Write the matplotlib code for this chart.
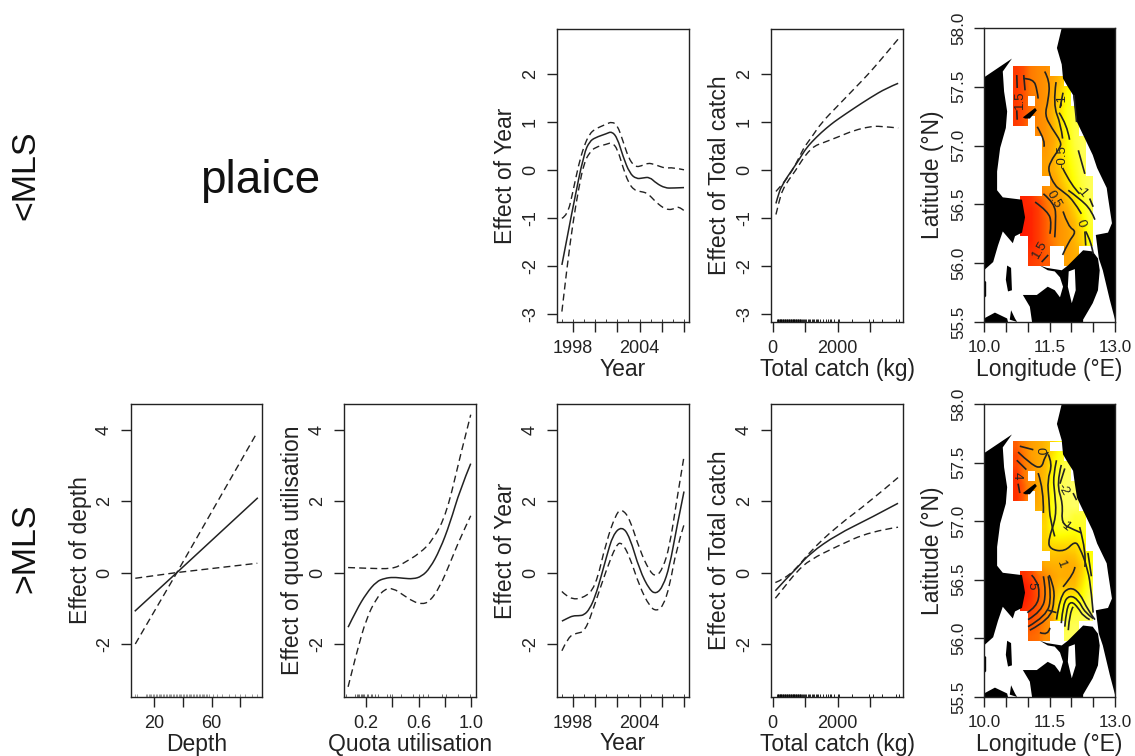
"""
Plaice GAM effects: smooth terms for <MLS and >MLS plus the two effect maps.
"""
import numpy as np
import matplotlib
matplotlib.use("Agg")
import matplotlib.pyplot as plt
from matplotlib.colors import LinearSegmentedColormap, ListedColormap, Normalize
from matplotlib.patches import Polygon, PathPatch
from matplotlib.path import Path

plt.rcParams["font.family"] = ["Liberation Sans", "DejaVu Sans"]
plt.rcParams["axes.unicode_minus"] = False

W, H = 1135, 756
INK = "#222222"
n = np.nan

# ---- <MLS smooth terms ----
year_u_x = [1997, 1998, 1999, 1999.5, 2000, 2001, 2001.5, 2002, 2002.5, 2003.1, 2003.7, 2004.3, 2004.9, 2005.5, 2006.3, 2007, 2008]
year_u_fit = [-1.98, -0.76, 0.35, 0.59, 0.67, 0.75, 0.80, 0.66, 0.28, -0.07, -0.19, -0.17, -0.15, -0.28, -0.38, -0.38, -0.37]
year_u_hi_x = [1997, 1997.5, 1998, 1998.5, 1999, 1999.5, 2000, 2001, 2001.5, 2002, 2002.5, 2003, 2003.5, 2004, 2004.7, 2005.5, 2006.3, 2007, 2008]
year_u_hi = [-1.01, -0.95, -0.45, 0.1, 0.5, 0.75, 0.85, 0.95, 1.0, 0.93, 0.6, 0.25, 0.08, 0.06, 0.15, 0.1, 0.03, 0.05, 0.0]
year_u_lo_x = [1997, 1997.5, 1998, 1998.5, 1999, 1999.5, 2000, 2001, 2001.5, 2002, 2002.5, 2003, 2003.5, 2004, 2004.7, 2005.5, 2006.3, 2007, 2007.5, 2008]
year_u_lo = [-2.95, -1.95, -1.1, -0.4, 0.15, 0.36, 0.47, 0.53, 0.57, 0.44, 0.05, -0.27, -0.42, -0.45, -0.48, -0.68, -0.82, -0.83, -0.75, -0.85]

catch_u_x = [100, 200, 300, 400, 500, 600, 700, 800, 1000, 1200, 1500, 1800, 2000, 2500, 3000, 3500, 3860]
catch_u_fit = [-0.7, -0.45, -0.32, -0.2, -0.1, 0.0, 0.1, 0.2, 0.42, 0.58, 0.78, 0.95, 1.05, 1.28, 1.5, 1.7, 1.8]
catch_u_hi_x = [100, 300, 500, 700, 900, 1000, 1200, 1500, 2000, 2500, 3000, 3500, 3860]
catch_u_hi = [-0.45, -0.3, -0.12, 0.1, 0.38, 0.5, 0.68, 0.98, 1.33, 1.68, 2.03, 2.43, 2.72]
catch_u_lo_x = [100, 200, 300, 500, 700, 900, 1100, 1300, 1500, 2000, 2500, 3000, 3300, 3860]
catch_u_lo = [-0.93, -0.65, -0.42, -0.2, -0.02, 0.2, 0.38, 0.5, 0.55, 0.68, 0.82, 0.9, 0.91, 0.87]

# ---- >MLS smooth terms ----
depth_x = [6.7, 35.8, 92]
depth_fit = [-1.07, 0.0, 2.08]
depth_hi = [-0.16, 0.0, 0.26]
depth_lo = [-2.0, 0.0, 3.93]

quota_x = [0.066, 0.129, 0.205, 0.281, 0.344, 0.408, 0.484, 0.559, 0.623, 0.686, 0.762, 0.838, 0.914, 0.995]
quota_fit = [-1.53, -1.05, -0.58, -0.25, -0.16, -0.13, -0.16, -0.18, -0.11, 0.12, 0.64, 1.38, 2.32, 3.05]
quota_lo = [-3.2, -2.26, -1.28, -0.72, -0.46, -0.44, -0.63, -0.81, -0.89, -0.81, -0.39, 0.26, 0.96, 1.59]
quota_hi_x = [0.066, 0.205, 0.408, 0.484, 0.61, 0.711, 0.813, 0.914, 0.995]
quota_hi = [0.14, 0.12, 0.10, 0.26, 0.54, 0.92, 1.66, 3.25, 4.42]

year_o_x = [1997, 1997.5, 1998, 1998.5, 1999, 1999.5, 2000, 2000.5, 2001, 2001.6, 2002.4, 2003.1, 2004, 2004.9, 2005.5, 2006.1, 2006.7, 2007.3, 2008]
year_o_fit = [-1.36, -1.28, -1.21, -1.21, -1.19, -1.02, -0.67, -0.15, 0.42, 1.06, 1.30, 1.01, 0.07, -0.49, -0.60, -0.39, 0.17, 1.2, 2.27]
year_o_hi_x = [1997, 1997.7, 1998.9, 2000, 2001, 2001.9, 2002.4, 2003.1, 2004, 2004.9, 2005.5, 2006.1, 2006.7, 2007.3, 2008]
year_o_hi = [-0.53, -0.75, -0.72, -0.44, 0.87, 1.66, 1.78, 1.52, 0.64, 0.03, -0.12, 0.12, 0.73, 1.94, 3.25]
year_o_lo_x = [1997, 1997.6, 1998.3, 1999.1, 2000, 2001, 2001.9, 2002.4, 2003.1, 2004, 2004.9, 2005.5, 2006.1, 2006.7, 2007.3, 2008]
year_o_lo = [-2.19, -1.79, -1.7, -1.65, -0.86, 0.07, 0.78, 0.85, 0.45, -0.39, -0.95, -1.08, -0.95, -0.39, 0.64, 1.34]

catch_o_x = [82, 430, 740, 1150, 1970, 2995, 3856]
catch_o_fit = [-0.51, -0.16, 0.12, 0.54, 1.06, 1.52, 1.94]
catch_o_hi_x = [82, 330, 740, 1150, 1970, 2995, 3856]
catch_o_hi = [-0.28, -0.19, 0.12, 0.59, 1.29, 1.99, 2.66]
catch_o_lo = [-0.72, -0.44, 0.03, 0.36, 0.73, 1.15, 1.27]

# ---- rugs ----
years = [1997, 1998, 1999, 2000, 2001, 2002, 2003, 2004, 2005, 2006, 2007, 2008]
depth_rug = [6.7, 8, 14, 15, 16, 17, 18, 19, 20, 21, 22, 23, 24, 25, 26, 27, 28, 29, 30, 31, 32, 33, 34, 35, 36, 37,
             38, 39, 40, 41, 42, 43, 44, 45, 46, 47, 48, 49, 50, 51, 52, 53, 54, 55, 56, 57, 58, 61, 64, 67, 72, 76.5, 80, 83.5, 88, 91.6]
quota_rug = [0.053, 0.116, 0.13, 0.14, 0.15, 0.16, 0.17, 0.18, 0.19, 0.21, 0.22, 0.24, 0.25, 0.27, 0.29, 0.357, 0.38,
             0.40, 0.47, 0.56, 0.60, 0.635, 0.67, 0.775, 0.81, 0.90, 0.99]
catch_rug = [130, 150, 170, 190, 210, 230, 250, 270, 290, 310, 330, 350, 370, 390, 410, 430, 450, 470, 490, 510, 530,
             550, 570, 590, 610, 630, 650, 670, 690, 710, 730, 750, 770, 790, 810, 830, 850, 880, 910, 940, 970, 1000,
             1040, 1080, 1120, 1160, 1200, 1240, 1280, 1320, 1360, 1400, 1450, 1550, 1650, 1700, 1750, 1800, 1900, 2000,
             2050, 2450, 2950, 3100, 3350, 3800, 3900]

# ---- map: land outlines (lon, lat) ----
land_jutland = [(10.0, 57.58), (10.64, 57.74), (10.43, 57.63), (10.46, 57.46), (10.53, 57.29), (10.50, 57.15),
                (10.37, 56.98), (10.30, 56.78), (10.30, 56.62), (10.43, 56.56), (10.87, 56.54), (10.94, 56.39),
                (10.87, 56.26), (10.71, 56.23), (10.66, 56.17), (10.43, 56.27), (10.32, 56.15), (10.21, 56.01), (10.0, 55.94)]
land_sweden = [(11.78, 58.0), (11.67, 57.83), (11.78, 57.69), (11.81, 57.57), (11.92, 57.50), (12.04, 57.43),
               (12.08, 57.32), (12.13, 57.20), (12.31, 57.06), (12.49, 56.92), (12.59, 56.81), (12.81, 56.64),
               (12.84, 56.56), (12.93, 56.34), (12.84, 56.26), (12.56, 56.24), (12.63, 56.04), (12.72, 55.94),
               (12.88, 55.69), (13.0, 55.52), (13.0, 58.0)]
land_zealand = [(11.28, 55.98), (11.44, 55.96), (11.78, 55.94), (11.92, 55.98), (12.27, 56.11), (12.49, 56.10),
                (12.61, 56.04), (12.65, 55.94), (12.61, 55.77), (12.49, 55.66), (12.27, 55.52), (12.27, 55.50),
                (11.10, 55.50), (11.05, 55.63), (10.89, 55.73), (11.21, 55.73), (11.46, 55.80), (11.62, 55.77),
                (11.74, 55.71), (11.81, 55.80), (11.74, 55.88), (11.62, 55.93), (11.46, 55.94)]
land_laeso = [(10.89, 57.24), (11.17, 57.32), (11.21, 57.30), (11.05, 57.23), (10.94, 57.23)]
land_samso = [(10.53, 55.98), (10.62, 55.96), (10.64, 55.77), (10.55, 55.76), (10.50, 55.86)]
land_fyn_a = [(10.0, 55.50), (10.0, 55.53), (10.25, 55.58), (10.53, 55.53), (10.55, 55.50)]
land_fyn_b = [(10.59, 55.52), (10.62, 55.60), (10.71, 55.53), (10.76, 55.50)]
land_fyn_c = [(10.0, 55.86), (10.05, 55.84), (10.05, 55.72), (10.0, 55.70)]
sea_isefjord = [(11.94, 55.93), (12.08, 55.95), (12.10, 55.77), (12.01, 55.66), (11.92, 55.80)]

# ---- map: effect cells, rows north to south ----
cell_lon = [10.67, 10.83, 11.0, 11.17, 11.33, 11.5, 11.67, 11.83, 12.0, 12.17, 12.33, 12.5]
cell_lat = [57.68, 57.595, 57.51, 57.425, 57.34, 57.255, 57.17, 57.085, 57.0, 56.915, 56.83, 56.745, 56.66,
            56.575, 56.49, 56.405, 56.32, 56.235, 56.15, 56.065, 55.98]
effect_under = [
    [1.7, 1.5, 1.1, .9, .8, n, n, n, n, n, n],
    [1.7, 1.5, 1.1, .9, .7, .4, .1, n, n, n, n],
    [1.7, 1.5, 1.1, .9, .7, .3, -.1, -.6, n, n, n],
    [1.7, 1.5, n, .9, .7, .3, -.2, -.7, n, n, n],
    [1.7, 1.5, 1.2, .9, .6, .2, -.3, -.8, -1.1, n, n],
    [1.7, 1.5, n, .9, .7, .2, -.3, -.8, -1.1, n, n],
    [n, n, n, .9, .7, .3, -.2, -.7, -1.1, n, n],
    [n, n, n, n, .7, .4, -.1, -.6, -1.1, -1.3, n],
    [n, n, n, n, .6, .3, -.2, -.6, -1.0, -1.3, n],
    [n, n, n, n, .5, .3, -.1, -.5, -.9, -1.2, n],
    [n, n, n, n, .5, .3, .0, -.4, -.8, -1.2, n],
    [n, n, n, n, n, .5, .1, -.3, -.7, -1.1, -1.3],
    [n, n, n, n, .8, .6, .3, -.1, -.5, -1.0, -1.3],
    [n, 1.9, 1.8, 1.6, 1.2, .8, .5, .1, -.3, -.8, -1.2],
    [n, 1.9, 1.9, 1.7, 1.3, .9, .6, .3, -.1, -.6, -1.1],
    [n, 2.0, 1.9, 1.7, 1.4, 1.0, .7, .4, .1, -.4, -1.0],
    [n, 2.0, 1.9, 1.7, 1.4, 1.0, .7, .5, .2, -.2, -.9],
    [n, n, 1.9, 1.7, 1.4, 1.1, .7, .5, .2, -.1, -.8],
    [n, n, 1.8, 1.7, 1.4, n, n, .5, .3, n, n],
    [n, n, 1.7, 1.6, 1.4, n, n, .5, .3, n, n],
]
effect_over = [
    [4, 3, 2, 1.5, 1, n, n, n, n, n, n],
    [4.5, 3.5, 2, 1.5, 1, -.3, -1.2, n, n, n, n],
    [4.5, 3.5, 2.5, 1.5, .9, -.6, -1.8, -2.4, n, n, n],
    [5, 3.5, n, 1.5, .8, -.9, -2.2, -2.6, n, n, n],
    [5, 4, 2.5, 1.5, .7, -1.1, -2.3, -2.7, -2.8, n, n],
    [5, 4, n, 1.5, .6, -1.2, -2.4, -2.7, -2.8, n, n],
    [n, n, n, 1.4, .5, -1.2, -2.3, -2.6, -2.8, n, n],
    [n, n, n, n, .3, -1.2, -2.2, -2.4, -1.8, -1.9, n],
    [n, n, n, n, .2, -1.1, -1.8, -1.8, -1.5, -1.6, n],
    [n, n, n, n, .3, -.6, -.8, -.7, -.6, -1.0, n],
    [n, n, n, n, .4, .2, .2, .2, .1, -.5, n],
    [n, n, n, n, n, .8, .9, 1, .8, 0, -1],
    [n, n, n, n, 1.5, 1.3, 1.2, 1.4, 1.3, .5, -1.2],
    [n, 5, 4.5, 3.7, 2.8, 1.8, 1.3, 1.4, 1.2, .2, -1.4],
    [n, 5.5, 5, 4, 3, 1.6, .8, .9, .9, -.3, -1.8],
    [n, 5.5, 5, 4.2, 3, 1.3, 0, -.2, -.3, -.9, -2.2],
    [n, 5.2, 4.8, 4.1, 3, 1.2, -.8, -1.2, -1.2, -1.8, -2.6],
    [n, n, 4.5, 4, 3, 1.3, -1, -1.8, -2.0, -2.2, -2.8],
    [n, n, 4.2, 3.8, 2.8, n, n, -2.2, -2.5, n, n],
    [n, n, 3.8, 3.6, 2.6, n, n, -2.4, -2.6, n, n],
]

# ---- map: contour traces (lon, lat) ----
contours_under = [
    [(10.75, 57.60), (10.76, 57.49)], [(10.75, 57.30), (10.76, 57.22)],
    [(10.91, 57.60), (10.94, 57.47)],
    [(10.90, 57.57), (11.13, 57.57), (11.22, 57.47), (11.24, 57.40)],
    [(11.39, 57.63), (11.51, 57.55), (11.47, 57.38), (11.39, 57.26), (11.55, 57.15), (11.77, 57.03), (11.74, 56.98),
     (11.51, 56.86), (11.47, 56.78), (11.62, 56.66), (11.77, 56.62), (12.04, 56.54), (12.23, 56.42)],
    [(12.33, 56.27), (12.46, 56.18), (12.50, 56.08)],
    [(11.65, 57.54), (11.58, 57.35), (11.76, 57.18), (11.80, 57.06)],
    [(11.80, 56.81), (12.0, 56.66), (12.19, 56.59)],
    [(11.72, 57.28), (11.90, 57.18), (11.96, 57.05)],
    [(12.16, 56.96), (12.31, 56.76)],
    [(11.81, 57.45), (11.74, 57.32)], [(12.06, 57.43), (12.12, 57.20)],
    [(11.22, 57.16), (11.42, 57.03), (11.37, 56.99)],
    [(11.17, 56.52), (11.47, 56.44), (11.55, 56.34), (11.51, 56.25)],
    [(11.36, 56.59), (11.62, 56.51), (11.65, 56.37), (11.62, 56.22)],
    [(11.81, 56.44), (11.93, 56.31), (12.12, 56.27), (11.93, 56.18), (11.80, 56.07)],
    [(12.31, 56.27), (12.33, 56.15)],
    [(11.93, 56.62), (12.19, 56.55), (12.46, 56.45), (12.54, 56.37)],
    [(12.42, 56.55), (12.50, 56.48)],
    [(11.32, 56.01), (11.47, 56.07)],
]
contours_over = [
    [(11.24, 57.41), (11.37, 57.27), (11.36, 57.07)],
    [(11.47, 57.57), (11.57, 57.49), (11.45, 57.35), (11.49, 57.18), (11.51, 57.01), (11.62, 56.87)],
    [(11.66, 57.52), (11.58, 57.38), (11.62, 57.24), (11.66, 57.04), (11.47, 56.84), (11.51, 56.76), (11.85, 56.74),
     (12.08, 56.83), (12.19, 56.78), (12.38, 56.59), (12.46, 56.39), (12.50, 56.22)],
    [(11.77, 57.48), (11.66, 57.32), (11.81, 57.15), (11.77, 56.98), (12.04, 56.93), (12.23, 56.90)],
    [(11.85, 57.45), (11.74, 57.32)],
    [(12.04, 57.24), (12.12, 57.18)],
    [(12.19, 56.95), (12.35, 56.73), (12.31, 56.61)],
    [(12.38, 56.73), (12.46, 56.53)],
    [(11.66, 56.16), (11.74, 56.36), (11.96, 56.44), (12.19, 56.39), (12.38, 56.24), (12.54, 56.16)],
    [(11.77, 56.13), (11.81, 56.30), (11.96, 56.37), (12.16, 56.33), (12.31, 56.22), (12.50, 56.17)],
    [(11.85, 56.10), (11.89, 56.26), (12.0, 56.32), (12.16, 56.26), (12.27, 56.19), (12.42, 56.16)],
    [(11.93, 56.07), (11.96, 56.22), (12.04, 56.27)],
    [(11.81, 56.44), (12.08, 56.56), (12.08, 56.61)],
    [(10.99, 56.22), (11.20, 56.27), (11.28, 56.39), (11.20, 56.50), (11.09, 56.54)],
    [(11.01, 56.16), (11.32, 56.23), (11.43, 56.39), (11.36, 56.53)],
    [(11.01, 56.10), (11.43, 56.19), (11.55, 56.36), (11.47, 56.53)],
    [(11.05, 56.07), (11.51, 56.16), (11.62, 56.33), (11.58, 56.47), (11.49, 56.54)],
    [(11.47, 56.24), (11.66, 56.22)],
    [(11.28, 56.05), (11.47, 56.02), (11.51, 56.09)],
    [(10.82, 57.64), (11.13, 57.61)],
    [(10.78, 57.59), (11.09, 57.48), (11.32, 57.45), (11.39, 57.55), (11.47, 57.59)],
    [(10.75, 57.52), (10.97, 57.44)],
    [(10.78, 57.32), (10.82, 57.24)],
]
labels_under = [("1.5", 10.82, 57.39, 90), ("-1", 11.79, 57.39, 90), ("-0.5", 11.79, 56.91, 90),
                ("-1", 12.23, 56.61, 310), ("0.5", 11.60, 56.54, 300), ("0", 12.22, 56.34, 290), ("1.5", 11.28, 56.12, 60)]
labels_over = [("0", 11.26, 57.60, 270), ("-2", 11.81, 57.27, 300), ("-1", 11.85, 56.96, 320),
               ("1", 11.77, 56.63, 290), ("4", 10.76, 57.39, 270), ("5", 11.09, 56.45, 270)]

heat = LinearSegmentedColormap.from_list("heat", ["#ffff70", "#ffff00", "#ffb000", "#ff7a00", "#ff1a00"])
blank = ListedColormap(["white"])


def add_axes(fig, x0, y0, x1, y1):
    ax = fig.add_axes([x0 / W, 1 - y1 / H, (x1 - x0) / W, (y1 - y0) / H])
    for s in ax.spines.values():
        s.set_linewidth(1.0); s.set_color(INK)
    ax.tick_params(axis="both", length=7, width=1.0, color=INK, labelcolor=INK, labelsize=13, pad=6)
    return ax


def y_ticks(ax, ticks, labels=None):
    ax.set_yticks(ticks)
    ax.set_yticklabels(labels if labels else [str(t) for t in ticks], rotation=90, va="center")


def axis_titles(fig, x0, x1, y1, xlabel, ylabel, y0):
    fig.text((x0 + x1) / 2 / W, 1 - (y1 + 47) / H, xlabel, ha="center", va="center", fontsize=16.5, color=INK)
    fig.text((x0 - 51) / W, 1 - (y0 + y1) / 2 / H, ylabel, ha="center", va="center", rotation=90, fontsize=16.5, color=INK)


def smooth_line(ax, xs, ys, lw=1.1, dashed=False, zorder=3):
    # read points become quadratic control points, so the curve stays free of kinks
    pts = np.column_stack([xs, ys])
    verts, codes = [pts[0]], [Path.MOVETO]
    for i in range(1, len(pts) - 1):
        end = pts[i + 1] if i == len(pts) - 2 else (pts[i] + pts[i + 1]) / 2
        verts += [pts[i], end]
        codes += [Path.CURVE3, Path.CURVE3]
    if len(pts) == 2:
        verts.append(pts[1]); codes.append(Path.LINETO)
    ls = (0, (5, 3)) if dashed else "-"
    ax.add_patch(PathPatch(Path(verts, codes), fill=False, ec=INK, lw=lw, ls=ls, capstyle="butt", zorder=zorder))


def gam_panel(fig, box, fit, hi, lo, xlim, ylim, xticks, xlabs, yticks, xlabel, ylabel, rug, rug_col, straight=False):
    ax = add_axes(fig, *box)
    if straight:
        ax.plot(fit[0], fit[1], color=INK, lw=1.1)
        ax.plot(hi[0], hi[1], color=INK, lw=1.0, dashes=(5, 3))
        ax.plot(lo[0], lo[1], color=INK, lw=1.0, dashes=(5, 3))
    else:
        smooth_line(ax, fit[0], fit[1])
        smooth_line(ax, hi[0], hi[1], lw=1.0, dashed=True)
        smooth_line(ax, lo[0], lo[1], lw=1.0, dashed=True)
    ax.vlines(rug, 0, 0.011, transform=ax.get_xaxis_transform(), color=rug_col, lw=0.6)
    ax.set_xlim(xlim); ax.set_ylim(ylim)
    ax.set_xticks(xticks); ax.set_xticklabels(xlabs)
    y_ticks(ax, yticks)
    axis_titles(fig, box[0], box[2], box[3], xlabel, ylabel, box[1])
    return ax


def filled(effect):
    # empty cells borrow from their neighbours so the blend stays clean at the cell edges
    a = np.array(effect, dtype=float)
    for _ in range(12):
        pad = np.pad(a, 1, constant_values=np.nan)
        around = np.stack([pad[:-2, 1:-1], pad[2:, 1:-1], pad[1:-1, :-2], pad[1:-1, 2:]])
        have = np.isfinite(around)
        mean = np.where(have.any(0), np.nansum(around, 0) / np.maximum(have.sum(0), 1), np.nan)
        a = np.where(np.isfinite(a), a, mean)
    return a


def map_panel(fig, box, effect, vmin, vmax, contours, labels):
    ax = add_axes(fig, *box)
    raw = np.array(effect, dtype=float)
    ax.imshow(filled(effect), extent=(cell_lon[0], cell_lon[-1], cell_lat[-1], cell_lat[0]), cmap=heat,
              norm=Normalize(vmin, vmax), interpolation="bilinear", aspect="auto", zorder=1)
    # white over the cells that hold no value
    ax.pcolormesh(cell_lon, cell_lat, np.ma.masked_where(np.isfinite(raw), np.zeros_like(raw)), cmap=blank, zorder=1.5)
    for shape in [land_jutland, land_sweden, land_zealand, land_laeso, land_samso, land_fyn_a, land_fyn_b, land_fyn_c]:
        ax.add_patch(Polygon(shape, closed=True, fc="black", ec="none", zorder=2))
    ax.add_patch(Polygon(sea_isefjord, closed=True, fc="white", ec="none", zorder=2.5))
    for line in contours:
        xy = np.array(line)
        smooth_line(ax, xy[:, 0], xy[:, 1], lw=1.2)
    for txt, lon, lat, rot in labels:
        ax.text(lon, lat, txt, rotation=rot, ha="center", va="center", fontsize=9.5, color=INK, zorder=4)
    ax.set_xlim(10, 13); ax.set_ylim(55.5, 58)
    ax.set_xticks([10, 10.5, 11, 11.5, 12, 12.5, 13])
    ax.set_xticklabels(["10.0", "", "", "11.5", "", "", "13.0"])
    y_ticks(ax, [55.5, 56, 56.5, 57, 57.5, 58], ["55.5", "56.0", "56.5", "57.0", "57.5", "58.0"])
    ax.tick_params(axis="both", labelsize=12.3)
    axis_titles(fig, box[0], box[2], box[3], "Longitude (°E)", "Latitude (°N)", box[1])
    return ax


def main():
    fig = plt.figure(figsize=(W / 100, H / 100), dpi=100, facecolor="white")

    year_ticks = [1998, 2000, 2002, 2004, 2006, 2008]
    year_labs = ["1998", "", "", "2004", "", ""]
    catch_ticks = [0, 1000, 2000, 3000]
    catch_labs = ["0", "", "2000", ""]
    ylim_u = (-3.167, 2.93)
    ylim_o = (-3.485, 4.72)
    yt_u = [-3, -2, -1, 0, 1, 2]
    yt_o = [-2, 0, 2, 4]

    # ---- top row ----
    gam_panel(fig, (557, 29, 689, 322), (year_u_x, year_u_fit), (year_u_hi_x, year_u_hi), (year_u_lo_x, year_u_lo),
              (1996.56, 2008.45), ylim_u, year_ticks, year_labs, yt_u, "Year", "Effect of Year", years, INK)
    gam_panel(fig, (771, 29, 903, 322), (catch_u_x, catch_u_fit), (catch_u_hi_x, catch_u_hi), (catch_u_lo_x, catch_u_lo),
              (-52, 4009), ylim_u, catch_ticks, catch_labs, yt_u, "Total catch (kg)", "Effect of Total catch", catch_rug, "black")
    map_panel(fig, (984, 28, 1115, 322), effect_under, -1.5, 2.0, contours_under, labels_under)

    # ---- bottom row ----
    gam_panel(fig, (131, 404, 262, 697), (depth_x, depth_fit), (depth_x, depth_hi), (depth_x, depth_lo),
              (3.7, 95.3), ylim_o, [20, 40, 60, 80], ["20", "", "60", ""], yt_o, "Depth", "Effect of depth", depth_rug, "#888888", straight=True)
    gam_panel(fig, (344, 404, 476, 697), (quota_x, quota_fit), (quota_hi_x, quota_hi), (quota_x, quota_lo),
              (0.035, 1.035), ylim_o, [0.2, 0.4, 0.6, 0.8, 1.0], ["0.2", "", "0.6", "", "1.0"], yt_o,
              "Quota utilisation", "Effect of quota utilisation", quota_rug, "#555555")
    gam_panel(fig, (557, 404, 689, 697), (year_o_x, year_o_fit), (year_o_hi_x, year_o_hi), (year_o_lo_x, year_o_lo),
              (1996.56, 2008.45), ylim_o, year_ticks, year_labs, yt_o, "Year", "Effect of Year", years, INK)
    gam_panel(fig, (771, 404, 903, 697), (catch_o_x, catch_o_fit), (catch_o_hi_x, catch_o_hi), (catch_o_hi_x, catch_o_lo),
              (-52, 4009), ylim_o, catch_ticks, catch_labs, yt_o, "Total catch (kg)", "Effect of Total catch", catch_rug, "black")
    map_panel(fig, (984, 404, 1115, 697), effect_over, -3.0, 5.5, contours_over, labels_over)

    # ---- row labels and species ----
    fig.text(26 / W, 1 - 175 / H, "<MLS", rotation=90, ha="center", va="center", fontsize=24.5, color="#111111")
    fig.text(26 / W, 1 - 548 / H, ">MLS", rotation=90, ha="center", va="center", fontsize=24.5, color="#111111")
    fig.text(260 / W, 1 - 181 / H, "plaice", ha="center", va="center", fontsize=33, color="#111111")

    fig.savefig("out.png", dpi=100)


if __name__ == "__main__":
    main()
